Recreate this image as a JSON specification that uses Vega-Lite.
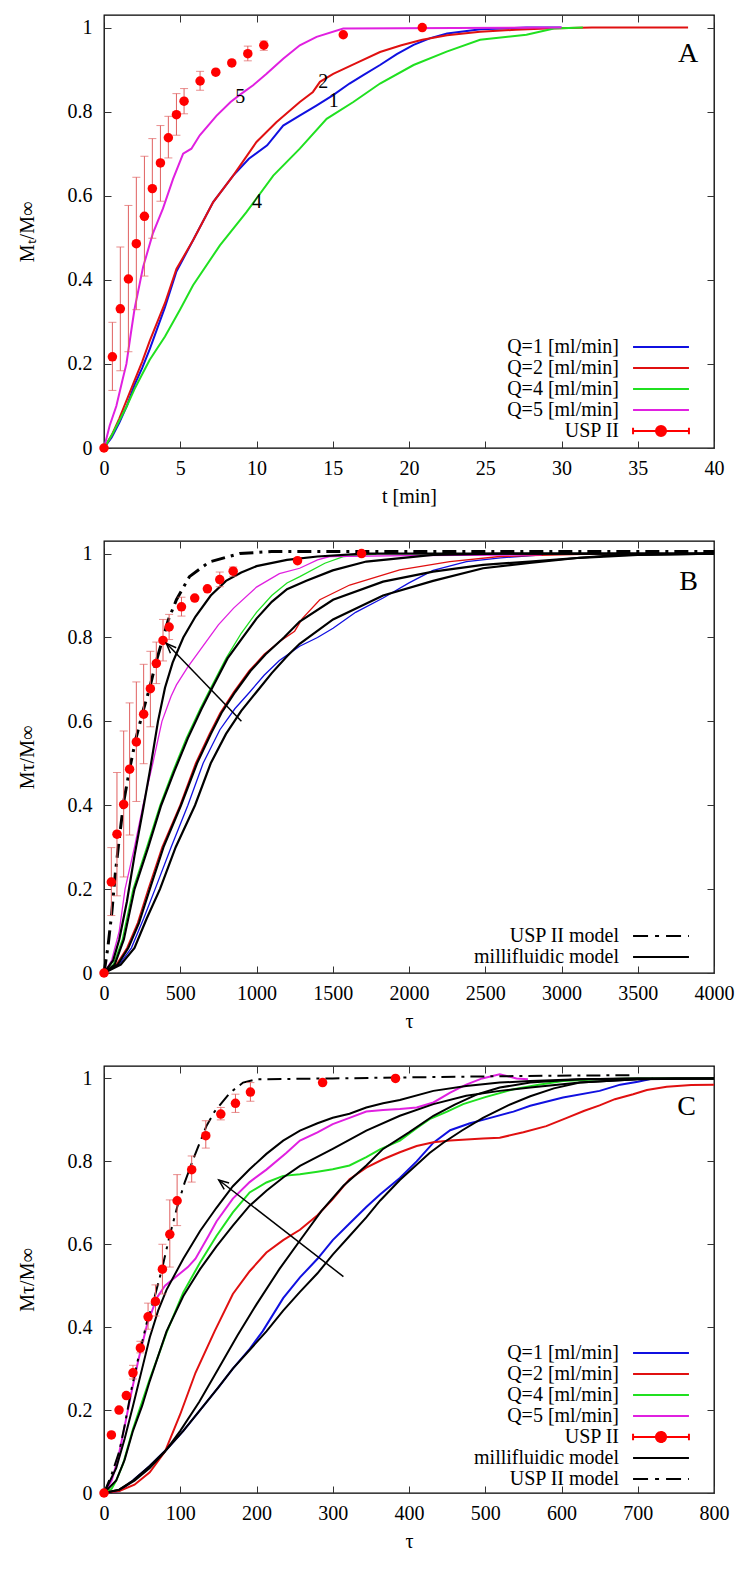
{
"$schema": "https://vega.github.io/schema/vega-lite/v6.json",
"padding": {"left": 16, "top": 13, "right": 5, "bottom": 5},
"spacing": 32,
"config": {
  "font": "Liberation Serif",
  "view": {"stroke": "black", "strokeWidth": 1.3},
  "axis": {"grid": false, "domain": false, "ticks": true, "tickSize": -7, "tickColor": "#333333", "tickWidth": 1, "labelFont": "Liberation Serif", "labelFontSize": 20, "labelColor": "black", "labelFlush": false, "labelOverlap": false, "titleFont": "Liberation Serif", "titleFontSize": 20, "titleFontWeight": "normal", "titleColor": "black"},
  "axisX": {"labelPadding": 17, "titlePadding": 8},
  "axisY": {"labelPadding": 19, "titlePadding": 30}
},
"datasets": {
  "A_pts": [
    {"s":"USP II","x":0,"y":0},
    {"s":"USP II","x":0.55,"y":0.217,"lo":0.137,"hi":0.299},
    {"s":"USP II","x":1.07,"y":0.331,"lo":0.184,"hi":0.478},
    {"s":"USP II","x":1.6,"y":0.402,"lo":0.229,"hi":0.577},
    {"s":"USP II","x":2.12,"y":0.486,"lo":0.329,"hi":0.644},
    {"s":"USP II","x":2.65,"y":0.551,"lo":0.409,"hi":0.694},
    {"s":"USP II","x":3.17,"y":0.617,"lo":0.499,"hi":0.736},
    {"s":"USP II","x":3.7,"y":0.678,"lo":0.587,"hi":0.767},
    {"s":"USP II","x":4.22,"y":0.738,"lo":0.69,"hi":0.789},
    {"s":"USP II","x":4.75,"y":0.793,"lo":0.744,"hi":0.843},
    {"s":"USP II","x":5.25,"y":0.825,"lo":0.795,"hi":0.855},
    {"s":"USP II","x":6.3,"y":0.873,"lo":0.851,"hi":0.896},
    {"s":"USP II","x":7.33,"y":0.894},
    {"s":"USP II","x":8.38,"y":0.916},
    {"s":"USP II","x":9.43,"y":0.938,"lo":0.921,"hi":0.956},
    {"s":"USP II","x":10.48,"y":0.958,"lo":0.946,"hi":0.968},
    {"s":"USP II","x":15.69,"y":0.983},
    {"s":"USP II","x":20.87,"y":1.0}
  ],
  "A_lines": [
    {"s":"Q=1 [ml/min]","x":0,"y":0},{"s":"Q=1 [ml/min]","x":0.5,"y":0.025},{"s":"Q=1 [ml/min]","x":1,"y":0.06},{"s":"Q=1 [ml/min]","x":1.5,"y":0.1},{"s":"Q=1 [ml/min]","x":2,"y":0.15},{"s":"Q=1 [ml/min]","x":2.5,"y":0.19},{"s":"Q=1 [ml/min]","x":3,"y":0.235},{"s":"Q=1 [ml/min]","x":3.5,"y":0.285},{"s":"Q=1 [ml/min]","x":4,"y":0.335},{"s":"Q=1 [ml/min]","x":4.75,"y":0.42},{"s":"Q=1 [ml/min]","x":5.84,"y":0.494},{"s":"Q=1 [ml/min]","x":7.16,"y":0.585},{"s":"Q=1 [ml/min]","x":8.47,"y":0.648},{"s":"Q=1 [ml/min]","x":9.5,"y":0.688},{"s":"Q=1 [ml/min]","x":10.7,"y":0.72},{"s":"Q=1 [ml/min]","x":11.75,"y":0.767},{"s":"Q=1 [ml/min]","x":12.8,"y":0.79},{"s":"Q=1 [ml/min]","x":13.9,"y":0.814},{"s":"Q=1 [ml/min]","x":15,"y":0.839},{"s":"Q=1 [ml/min]","x":16.1,"y":0.867},{"s":"Q=1 [ml/min]","x":17,"y":0.887},{"s":"Q=1 [ml/min]","x":18.1,"y":0.911},{"s":"Q=1 [ml/min]","x":19.2,"y":0.937},{"s":"Q=1 [ml/min]","x":20.3,"y":0.959},{"s":"Q=1 [ml/min]","x":21.4,"y":0.975},{"s":"Q=1 [ml/min]","x":22.5,"y":0.986},{"s":"Q=1 [ml/min]","x":24.7,"y":0.996},{"s":"Q=1 [ml/min]","x":27.7,"y":1.0},{"s":"Q=1 [ml/min]","x":30,"y":1.0},
    {"s":"Q=2 [ml/min]","x":0,"y":0},{"s":"Q=2 [ml/min]","x":0.5,"y":0.03},{"s":"Q=2 [ml/min]","x":1,"y":0.07},{"s":"Q=2 [ml/min]","x":1.5,"y":0.115},{"s":"Q=2 [ml/min]","x":2,"y":0.16},{"s":"Q=2 [ml/min]","x":2.5,"y":0.205},{"s":"Q=2 [ml/min]","x":3,"y":0.255},{"s":"Q=2 [ml/min]","x":3.5,"y":0.3},{"s":"Q=2 [ml/min]","x":4,"y":0.345},{"s":"Q=2 [ml/min]","x":4.75,"y":0.426},{"s":"Q=2 [ml/min]","x":5.84,"y":0.494},{"s":"Q=2 [ml/min]","x":7.16,"y":0.585},{"s":"Q=2 [ml/min]","x":8.47,"y":0.648},{"s":"Q=2 [ml/min]","x":10,"y":0.728},{"s":"Q=2 [ml/min]","x":11.3,"y":0.775},{"s":"Q=2 [ml/min]","x":12.84,"y":0.823},{"s":"Q=2 [ml/min]","x":13.7,"y":0.847},{"s":"Q=2 [ml/min]","x":14.16,"y":0.871},{"s":"Q=2 [ml/min]","x":15.03,"y":0.89},{"s":"Q=2 [ml/min]","x":16.5,"y":0.915},{"s":"Q=2 [ml/min]","x":18.1,"y":0.942},{"s":"Q=2 [ml/min]","x":19.5,"y":0.958},{"s":"Q=2 [ml/min]","x":20.87,"y":0.971},{"s":"Q=2 [ml/min]","x":22.5,"y":0.982},{"s":"Q=2 [ml/min]","x":24.66,"y":0.99},{"s":"Q=2 [ml/min]","x":27,"y":0.995},{"s":"Q=2 [ml/min]","x":29,"y":0.998},{"s":"Q=2 [ml/min]","x":32,"y":1.0},{"s":"Q=2 [ml/min]","x":38.3,"y":1.0},
    {"s":"Q=4 [ml/min]","x":0,"y":0},{"s":"Q=4 [ml/min]","x":0.5,"y":0.03},{"s":"Q=4 [ml/min]","x":1,"y":0.065},{"s":"Q=4 [ml/min]","x":1.5,"y":0.1},{"s":"Q=4 [ml/min]","x":2,"y":0.14},{"s":"Q=4 [ml/min]","x":2.34,"y":0.164},{"s":"Q=4 [ml/min]","x":3,"y":0.21},{"s":"Q=4 [ml/min]","x":4,"y":0.265},{"s":"Q=4 [ml/min]","x":5,"y":0.33},{"s":"Q=4 [ml/min]","x":5.84,"y":0.387},{"s":"Q=4 [ml/min]","x":7.6,"y":0.482},{"s":"Q=4 [ml/min]","x":9.34,"y":0.561},{"s":"Q=4 [ml/min]","x":11.1,"y":0.648},{"s":"Q=4 [ml/min]","x":12.84,"y":0.712},{"s":"Q=4 [ml/min]","x":14.6,"y":0.783},{"s":"Q=4 [ml/min]","x":16.35,"y":0.823},{"s":"Q=4 [ml/min]","x":18.1,"y":0.867},{"s":"Q=4 [ml/min]","x":20.3,"y":0.911},{"s":"Q=4 [ml/min]","x":22.47,"y":0.943},{"s":"Q=4 [ml/min]","x":24.66,"y":0.971},{"s":"Q=4 [ml/min]","x":27.7,"y":0.983},{"s":"Q=4 [ml/min]","x":29.5,"y":0.998},{"s":"Q=4 [ml/min]","x":31.4,"y":1.0},
    {"s":"Q=5 [ml/min]","x":0,"y":0},{"s":"Q=5 [ml/min]","x":0.37,"y":0.053},{"s":"Q=5 [ml/min]","x":0.81,"y":0.1},{"s":"Q=5 [ml/min]","x":1.2,"y":0.16},{"s":"Q=5 [ml/min]","x":1.47,"y":0.2},{"s":"Q=5 [ml/min]","x":1.75,"y":0.27},{"s":"Q=5 [ml/min]","x":2.0,"y":0.33},{"s":"Q=5 [ml/min]","x":2.56,"y":0.43},{"s":"Q=5 [ml/min]","x":3.2,"y":0.51},{"s":"Q=5 [ml/min]","x":3.87,"y":0.57},{"s":"Q=5 [ml/min]","x":4.53,"y":0.64},{"s":"Q=5 [ml/min]","x":5.19,"y":0.7},{"s":"Q=5 [ml/min]","x":5.73,"y":0.712},{"s":"Q=5 [ml/min]","x":6.28,"y":0.744},{"s":"Q=5 [ml/min]","x":7.37,"y":0.79},{"s":"Q=5 [ml/min]","x":8.3,"y":0.823},{"s":"Q=5 [ml/min]","x":8.9,"y":0.84},{"s":"Q=5 [ml/min]","x":9.78,"y":0.863},{"s":"Q=5 [ml/min]","x":10.66,"y":0.89},{"s":"Q=5 [ml/min]","x":11.75,"y":0.926},{"s":"Q=5 [ml/min]","x":12.84,"y":0.958},{"s":"Q=5 [ml/min]","x":13.94,"y":0.978},{"s":"Q=5 [ml/min]","x":15.69,"y":0.998},{"s":"Q=5 [ml/min]","x":30,"y":1.0}
  ],
  "B_pts": [
    {"x":0,"y":0},
    {"x":48,"y":0.217,"lo":0.137,"hi":0.299},
    {"x":85,"y":0.331,"lo":0.184,"hi":0.478},
    {"x":129,"y":0.402,"lo":0.229,"hi":0.577},
    {"x":168,"y":0.486,"lo":0.329,"hi":0.644},
    {"x":212,"y":0.551,"lo":0.409,"hi":0.694},
    {"x":260,"y":0.617,"lo":0.499,"hi":0.736},
    {"x":304,"y":0.678,"lo":0.587,"hi":0.767},
    {"x":343,"y":0.738,"lo":0.69,"hi":0.789},
    {"x":387,"y":0.793,"lo":0.744,"hi":0.843},
    {"x":427,"y":0.825,"lo":0.795,"hi":0.855},
    {"x":508,"y":0.873,"lo":0.851,"hi":0.896},
    {"x":595,"y":0.894},
    {"x":678,"y":0.916},
    {"x":759,"y":0.938,"lo":0.921,"hi":0.956},
    {"x":847,"y":0.958,"lo":0.946,"hi":0.968},
    {"x":1269,"y":0.983},
    {"x":1689,"y":1.0}
  ],
  "B_lines": [
    {"s":"Q=1 [ml/min]","x":0,"y":0},{"s":"Q=1 [ml/min]","x":100,"y":0.02},{"s":"Q=1 [ml/min]","x":180,"y":0.06},{"s":"Q=1 [ml/min]","x":260,"y":0.13},{"s":"Q=1 [ml/min]","x":335,"y":0.2},{"s":"Q=1 [ml/min]","x":440,"y":0.3},{"s":"Q=1 [ml/min]","x":550,"y":0.4},{"s":"Q=1 [ml/min]","x":650,"y":0.5},{"s":"Q=1 [ml/min]","x":760,"y":0.58},{"s":"Q=1 [ml/min]","x":858,"y":0.63},{"s":"Q=1 [ml/min]","x":956,"y":0.67},{"s":"Q=1 [ml/min]","x":1050,"y":0.71},{"s":"Q=1 [ml/min]","x":1150,"y":0.745},{"s":"Q=1 [ml/min]","x":1283,"y":0.779},{"s":"Q=1 [ml/min]","x":1400,"y":0.8},{"s":"Q=1 [ml/min]","x":1502,"y":0.822},{"s":"Q=1 [ml/min]","x":1650,"y":0.86},{"s":"Q=1 [ml/min]","x":1830,"y":0.894},{"s":"Q=1 [ml/min]","x":2000,"y":0.93},{"s":"Q=1 [ml/min]","x":2158,"y":0.96},{"s":"Q=1 [ml/min]","x":2377,"y":0.981},{"s":"Q=1 [ml/min]","x":2600,"y":0.99},{"s":"Q=1 [ml/min]","x":2877,"y":0.997},
    {"s":"Q=2 [ml/min]","x":0,"y":0},{"s":"Q=2 [ml/min]","x":80,"y":0.02},{"s":"Q=2 [ml/min]","x":150,"y":0.06},{"s":"Q=2 [ml/min]","x":220,"y":0.12},{"s":"Q=2 [ml/min]","x":289,"y":0.2},{"s":"Q=2 [ml/min]","x":380,"y":0.3},{"s":"Q=2 [ml/min]","x":498,"y":0.4},{"s":"Q=2 [ml/min]","x":600,"y":0.5},{"s":"Q=2 [ml/min]","x":690,"y":0.57},{"s":"Q=2 [ml/min]","x":760,"y":0.62},{"s":"Q=2 [ml/min]","x":850,"y":0.67},{"s":"Q=2 [ml/min]","x":950,"y":0.72},{"s":"Q=2 [ml/min]","x":1050,"y":0.76},{"s":"Q=2 [ml/min]","x":1150,"y":0.79},{"s":"Q=2 [ml/min]","x":1250,"y":0.815},{"s":"Q=2 [ml/min]","x":1300,"y":0.845},{"s":"Q=2 [ml/min]","x":1415,"y":0.89},{"s":"Q=2 [ml/min]","x":1611,"y":0.925},{"s":"Q=2 [ml/min]","x":1939,"y":0.961},{"s":"Q=2 [ml/min]","x":2267,"y":0.981},{"s":"Q=2 [ml/min]","x":2595,"y":0.993},{"s":"Q=2 [ml/min]","x":2790,"y":0.995},{"s":"Q=2 [ml/min]","x":3337,"y":1.0},
    {"s":"Q=4 [ml/min]","x":0,"y":0},{"s":"Q=4 [ml/min]","x":60,"y":0.02},{"s":"Q=4 [ml/min]","x":120,"y":0.08},{"s":"Q=4 [ml/min]","x":190,"y":0.2},{"s":"Q=4 [ml/min]","x":280,"y":0.3},{"s":"Q=4 [ml/min]","x":367,"y":0.4},{"s":"Q=4 [ml/min]","x":450,"y":0.48},{"s":"Q=4 [ml/min]","x":540,"y":0.56},{"s":"Q=4 [ml/min]","x":630,"y":0.63},{"s":"Q=4 [ml/min]","x":700,"y":0.68},{"s":"Q=4 [ml/min]","x":800,"y":0.75},{"s":"Q=4 [ml/min]","x":900,"y":0.81},{"s":"Q=4 [ml/min]","x":1000,"y":0.86},{"s":"Q=4 [ml/min]","x":1100,"y":0.9},{"s":"Q=4 [ml/min]","x":1200,"y":0.93},{"s":"Q=4 [ml/min]","x":1284,"y":0.945},{"s":"Q=4 [ml/min]","x":1448,"y":0.977},{"s":"Q=4 [ml/min]","x":1569,"y":0.993},{"s":"Q=4 [ml/min]","x":1786,"y":0.999},
    {"s":"Q=5 [ml/min]","x":0,"y":0},{"s":"Q=5 [ml/min]","x":50,"y":0.03},{"s":"Q=5 [ml/min]","x":100,"y":0.1},{"s":"Q=5 [ml/min]","x":138,"y":0.2},{"s":"Q=5 [ml/min]","x":200,"y":0.3},{"s":"Q=5 [ml/min]","x":256,"y":0.4},{"s":"Q=5 [ml/min]","x":320,"y":0.5},{"s":"Q=5 [ml/min]","x":380,"y":0.6},{"s":"Q=5 [ml/min]","x":440,"y":0.66},{"s":"Q=5 [ml/min]","x":475,"y":0.687},{"s":"Q=5 [ml/min]","x":550,"y":0.73},{"s":"Q=5 [ml/min]","x":650,"y":0.78},{"s":"Q=5 [ml/min]","x":750,"y":0.83},{"s":"Q=5 [ml/min]","x":850,"y":0.87},{"s":"Q=5 [ml/min]","x":1000,"y":0.92},{"s":"Q=5 [ml/min]","x":1150,"y":0.952},{"s":"Q=5 [ml/min]","x":1283,"y":0.965},{"s":"Q=5 [ml/min]","x":1400,"y":0.985},{"s":"Q=5 [ml/min]","x":1480,"y":0.993},{"s":"Q=5 [ml/min]","x":2000,"y":0.995},{"s":"Q=5 [ml/min]","x":2870,"y":0.997}
  ],
  "B_models": [
    {"s":"millifluidic model","c":"m1","x":0,"y":0},{"s":"millifluidic model","c":"m1","x":60,"y":0.03},{"s":"millifluidic model","c":"m1","x":100,"y":0.08},{"s":"millifluidic model","c":"m1","x":150,"y":0.17},{"s":"millifluidic model","c":"m1","x":200,"y":0.28},{"s":"millifluidic model","c":"m1","x":256,"y":0.39},{"s":"millifluidic model","c":"m1","x":300,"y":0.48},{"s":"millifluidic model","c":"m1","x":354,"y":0.6},{"s":"millifluidic model","c":"m1","x":400,"y":0.68},{"s":"millifluidic model","c":"m1","x":450,"y":0.74},{"s":"millifluidic model","c":"m1","x":520,"y":0.8},{"s":"millifluidic model","c":"m1","x":600,"y":0.85},{"s":"millifluidic model","c":"m1","x":700,"y":0.9},{"s":"millifluidic model","c":"m1","x":800,"y":0.935},{"s":"millifluidic model","c":"m1","x":900,"y":0.955},{"s":"millifluidic model","c":"m1","x":1000,"y":0.97},{"s":"millifluidic model","c":"m1","x":1200,"y":0.985},{"s":"millifluidic model","c":"m1","x":1400,"y":0.993},{"s":"millifluidic model","c":"m1","x":1700,"y":1.0},{"s":"millifluidic model","c":"m1","x":4000,"y":1.0},
    {"s":"millifluidic model","c":"m2","x":0,"y":0},{"s":"millifluidic model","c":"m2","x":70,"y":0.02},{"s":"millifluidic model","c":"m2","x":130,"y":0.08},{"s":"millifluidic model","c":"m2","x":200,"y":0.2},{"s":"millifluidic model","c":"m2","x":290,"y":0.3},{"s":"millifluidic model","c":"m2","x":375,"y":0.4},{"s":"millifluidic model","c":"m2","x":460,"y":0.48},{"s":"millifluidic model","c":"m2","x":550,"y":0.56},{"s":"millifluidic model","c":"m2","x":640,"y":0.63},{"s":"millifluidic model","c":"m2","x":710,"y":0.68},{"s":"millifluidic model","c":"m2","x":810,"y":0.75},{"s":"millifluidic model","c":"m2","x":910,"y":0.8},{"s":"millifluidic model","c":"m2","x":1000,"y":0.845},{"s":"millifluidic model","c":"m2","x":1100,"y":0.885},{"s":"millifluidic model","c":"m2","x":1200,"y":0.915},{"s":"millifluidic model","c":"m2","x":1327,"y":0.935},{"s":"millifluidic model","c":"m2","x":1500,"y":0.96},{"s":"millifluidic model","c":"m2","x":1720,"y":0.981},{"s":"millifluidic model","c":"m2","x":2158,"y":0.997},{"s":"millifluidic model","c":"m2","x":2600,"y":1.0},{"s":"millifluidic model","c":"m2","x":4000,"y":1.0},
    {"s":"millifluidic model","c":"m3","x":0,"y":0},{"s":"millifluidic model","c":"m3","x":90,"y":0.02},{"s":"millifluidic model","c":"m3","x":160,"y":0.06},{"s":"millifluidic model","c":"m3","x":230,"y":0.12},{"s":"millifluidic model","c":"m3","x":300,"y":0.2},{"s":"millifluidic model","c":"m3","x":390,"y":0.3},{"s":"millifluidic model","c":"m3","x":505,"y":0.4},{"s":"millifluidic model","c":"m3","x":610,"y":0.5},{"s":"millifluidic model","c":"m3","x":700,"y":0.57},{"s":"millifluidic model","c":"m3","x":770,"y":0.62},{"s":"millifluidic model","c":"m3","x":860,"y":0.67},{"s":"millifluidic model","c":"m3","x":960,"y":0.72},{"s":"millifluidic model","c":"m3","x":1060,"y":0.76},{"s":"millifluidic model","c":"m3","x":1180,"y":0.8},{"s":"millifluidic model","c":"m3","x":1283,"y":0.838},{"s":"millifluidic model","c":"m3","x":1502,"y":0.89},{"s":"millifluidic model","c":"m3","x":1830,"y":0.933},{"s":"millifluidic model","c":"m3","x":2158,"y":0.957},{"s":"millifluidic model","c":"m3","x":2486,"y":0.973},{"s":"millifluidic model","c":"m3","x":2790,"y":0.981},{"s":"millifluidic model","c":"m3","x":3120,"y":0.99},{"s":"millifluidic model","c":"m3","x":3500,"y":0.997},{"s":"millifluidic model","c":"m3","x":4000,"y":1.0},
    {"s":"millifluidic model","c":"m4","x":0,"y":0},{"s":"millifluidic model","c":"m4","x":110,"y":0.02},{"s":"millifluidic model","c":"m4","x":200,"y":0.06},{"s":"millifluidic model","c":"m4","x":280,"y":0.13},{"s":"millifluidic model","c":"m4","x":367,"y":0.2},{"s":"millifluidic model","c":"m4","x":470,"y":0.3},{"s":"millifluidic model","c":"m4","x":597,"y":0.4},{"s":"millifluidic model","c":"m4","x":700,"y":0.5},{"s":"millifluidic model","c":"m4","x":800,"y":0.57},{"s":"millifluidic model","c":"m4","x":900,"y":0.625},{"s":"millifluidic model","c":"m4","x":1000,"y":0.67},{"s":"millifluidic model","c":"m4","x":1100,"y":0.715},{"s":"millifluidic model","c":"m4","x":1200,"y":0.755},{"s":"millifluidic model","c":"m4","x":1283,"y":0.785},{"s":"millifluidic model","c":"m4","x":1502,"y":0.843},{"s":"millifluidic model","c":"m4","x":1830,"y":0.9},{"s":"millifluidic model","c":"m4","x":2158,"y":0.935},{"s":"millifluidic model","c":"m4","x":2486,"y":0.965},{"s":"millifluidic model","c":"m4","x":2790,"y":0.978},{"s":"millifluidic model","c":"m4","x":3120,"y":0.99},{"s":"millifluidic model","c":"m4","x":3338,"y":0.996},{"s":"millifluidic model","c":"m4","x":4000,"y":1.0}
  ],
  "B_usp": [
    {"s":"USP II model","x":0,"y":0},{"s":"USP II model","x":25,"y":0.06},{"s":"USP II model","x":50,"y":0.14},{"s":"USP II model","x":75,"y":0.24},{"s":"USP II model","x":100,"y":0.32},{"s":"USP II model","x":130,"y":0.41},{"s":"USP II model","x":170,"y":0.49},{"s":"USP II model","x":210,"y":0.56},{"s":"USP II model","x":260,"y":0.63},{"s":"USP II model","x":300,"y":0.68},{"s":"USP II model","x":340,"y":0.74},{"s":"USP II model","x":380,"y":0.79},{"s":"USP II model","x":420,"y":0.84},{"s":"USP II model","x":475,"y":0.89},{"s":"USP II model","x":560,"y":0.945},{"s":"USP II model","x":690,"y":0.98},{"s":"USP II model","x":890,"y":1.0},{"s":"USP II model","x":1100,"y":1.005},{"s":"USP II model","x":4000,"y":1.005}
  ],
  "C_pts": [
    {"s":"USP II","x":0,"y":0},
    {"s":"USP II","x":9.7,"y":0.14},
    {"s":"USP II","x":19.7,"y":0.2},
    {"s":"USP II","x":29.3,"y":0.235},
    {"s":"USP II","x":38,"y":0.29,"lo":0.275,"hi":0.308},
    {"s":"USP II","x":47.7,"y":0.35,"lo":0.338,"hi":0.366},
    {"s":"USP II","x":57.8,"y":0.425,"lo":0.395,"hi":0.458},
    {"s":"USP II","x":67.5,"y":0.462,"lo":0.427,"hi":0.502},
    {"s":"USP II","x":76.6,"y":0.54,"lo":0.48,"hi":0.6},
    {"s":"USP II","x":86.3,"y":0.624,"lo":0.545,"hi":0.707},
    {"s":"USP II","x":95.9,"y":0.705,"lo":0.645,"hi":0.768},
    {"s":"USP II","x":115,"y":0.78,"lo":0.75,"hi":0.813},
    {"s":"USP II","x":133.5,"y":0.862,"lo":0.832,"hi":0.898},
    {"s":"USP II","x":153.2,"y":0.914,"lo":0.9,"hi":0.93},
    {"s":"USP II","x":172.4,"y":0.94,"lo":0.918,"hi":0.962},
    {"s":"USP II","x":192,"y":0.967,"lo":0.945,"hi":0.99},
    {"s":"USP II","x":286.7,"y":0.99},
    {"s":"USP II","x":382.3,"y":1.0}
  ],
  "C_lines": [
    {"s":"Q=1 [ml/min]","x":0,"y":0},{"s":"Q=1 [ml/min]","x":20,"y":0.005},{"s":"Q=1 [ml/min]","x":38,"y":0.03},{"s":"Q=1 [ml/min]","x":60,"y":0.065},{"s":"Q=1 [ml/min]","x":82,"y":0.105},{"s":"Q=1 [ml/min]","x":104,"y":0.15},{"s":"Q=1 [ml/min]","x":126,"y":0.2},{"s":"Q=1 [ml/min]","x":150,"y":0.255},{"s":"Q=1 [ml/min]","x":169,"y":0.3},{"s":"Q=1 [ml/min]","x":190,"y":0.345},{"s":"Q=1 [ml/min]","x":208,"y":0.39},{"s":"Q=1 [ml/min]","x":235,"y":0.47},{"s":"Q=1 [ml/min]","x":257,"y":0.52},{"s":"Q=1 [ml/min]","x":280,"y":0.565},{"s":"Q=1 [ml/min]","x":300,"y":0.61},{"s":"Q=1 [ml/min]","x":322,"y":0.65},{"s":"Q=1 [ml/min]","x":344,"y":0.69},{"s":"Q=1 [ml/min]","x":362,"y":0.72},{"s":"Q=1 [ml/min]","x":388,"y":0.76},{"s":"Q=1 [ml/min]","x":410,"y":0.8},{"s":"Q=1 [ml/min]","x":432,"y":0.845},{"s":"Q=1 [ml/min]","x":454,"y":0.875},{"s":"Q=1 [ml/min]","x":480,"y":0.892},{"s":"Q=1 [ml/min]","x":497,"y":0.9},{"s":"Q=1 [ml/min]","x":537,"y":0.92},{"s":"Q=1 [ml/min]","x":559,"y":0.934},{"s":"Q=1 [ml/min]","x":602,"y":0.954},{"s":"Q=1 [ml/min]","x":650,"y":0.97},{"s":"Q=1 [ml/min]","x":677,"y":0.985},{"s":"Q=1 [ml/min]","x":700,"y":0.992},{"s":"Q=1 [ml/min]","x":720,"y":1.0},
    {"s":"Q=2 [ml/min]","x":0,"y":0},{"s":"Q=2 [ml/min]","x":20,"y":0.005},{"s":"Q=2 [ml/min]","x":40,"y":0.02},{"s":"Q=2 [ml/min]","x":60,"y":0.05},{"s":"Q=2 [ml/min]","x":80,"y":0.1},{"s":"Q=2 [ml/min]","x":100,"y":0.19},{"s":"Q=2 [ml/min]","x":120,"y":0.29},{"s":"Q=2 [ml/min]","x":145,"y":0.39},{"s":"Q=2 [ml/min]","x":169,"y":0.48},{"s":"Q=2 [ml/min]","x":191,"y":0.535},{"s":"Q=2 [ml/min]","x":213,"y":0.58},{"s":"Q=2 [ml/min]","x":235,"y":0.61},{"s":"Q=2 [ml/min]","x":257,"y":0.635},{"s":"Q=2 [ml/min]","x":280,"y":0.67},{"s":"Q=2 [ml/min]","x":300,"y":0.709},{"s":"Q=2 [ml/min]","x":322,"y":0.757},{"s":"Q=2 [ml/min]","x":344,"y":0.785},{"s":"Q=2 [ml/min]","x":366,"y":0.805},{"s":"Q=2 [ml/min]","x":388,"y":0.822},{"s":"Q=2 [ml/min]","x":410,"y":0.837},{"s":"Q=2 [ml/min]","x":432,"y":0.846},{"s":"Q=2 [ml/min]","x":454,"y":0.85},{"s":"Q=2 [ml/min]","x":497,"y":0.855},{"s":"Q=2 [ml/min]","x":519,"y":0.857},{"s":"Q=2 [ml/min]","x":550,"y":0.87},{"s":"Q=2 [ml/min]","x":580,"y":0.885},{"s":"Q=2 [ml/min]","x":607,"y":0.905},{"s":"Q=2 [ml/min]","x":630,"y":0.922},{"s":"Q=2 [ml/min]","x":650,"y":0.935},{"s":"Q=2 [ml/min]","x":670,"y":0.95},{"s":"Q=2 [ml/min]","x":694,"y":0.962},{"s":"Q=2 [ml/min]","x":712,"y":0.972},{"s":"Q=2 [ml/min]","x":738,"y":0.98},{"s":"Q=2 [ml/min]","x":770,"y":0.984},{"s":"Q=2 [ml/min]","x":800,"y":0.985},
    {"s":"Q=4 [ml/min]","x":0,"y":0},{"s":"Q=4 [ml/min]","x":10,"y":0.01},{"s":"Q=4 [ml/min]","x":16,"y":0.03},{"s":"Q=4 [ml/min]","x":25,"y":0.07},{"s":"Q=4 [ml/min]","x":38,"y":0.154},{"s":"Q=4 [ml/min]","x":50,"y":0.22},{"s":"Q=4 [ml/min]","x":60,"y":0.275},{"s":"Q=4 [ml/min]","x":71,"y":0.33},{"s":"Q=4 [ml/min]","x":82,"y":0.387},{"s":"Q=4 [ml/min]","x":104,"y":0.484},{"s":"Q=4 [ml/min]","x":126,"y":0.556},{"s":"Q=4 [ml/min]","x":147.5,"y":0.62},{"s":"Q=4 [ml/min]","x":169,"y":0.677},{"s":"Q=4 [ml/min]","x":191,"y":0.725},{"s":"Q=4 [ml/min]","x":213,"y":0.749},{"s":"Q=4 [ml/min]","x":235,"y":0.765},{"s":"Q=4 [ml/min]","x":257,"y":0.769},{"s":"Q=4 [ml/min]","x":280,"y":0.775},{"s":"Q=4 [ml/min]","x":300,"y":0.781},{"s":"Q=4 [ml/min]","x":322,"y":0.79},{"s":"Q=4 [ml/min]","x":344,"y":0.81},{"s":"Q=4 [ml/min]","x":362,"y":0.829},{"s":"Q=4 [ml/min]","x":388,"y":0.85},{"s":"Q=4 [ml/min]","x":410,"y":0.88},{"s":"Q=4 [ml/min]","x":427,"y":0.902},{"s":"Q=4 [ml/min]","x":450,"y":0.92},{"s":"Q=4 [ml/min]","x":471,"y":0.938},{"s":"Q=4 [ml/min]","x":500,"y":0.955},{"s":"Q=4 [ml/min]","x":537,"y":0.974},{"s":"Q=4 [ml/min]","x":570,"y":0.985},{"s":"Q=4 [ml/min]","x":602,"y":0.994},{"s":"Q=4 [ml/min]","x":650,"y":0.998},{"s":"Q=4 [ml/min]","x":700,"y":1.0},{"s":"Q=4 [ml/min]","x":800,"y":1.0},
    {"s":"Q=5 [ml/min]","x":0,"y":0},{"s":"Q=5 [ml/min]","x":10,"y":0.03},{"s":"Q=5 [ml/min]","x":18,"y":0.08},{"s":"Q=5 [ml/min]","x":27,"y":0.16},{"s":"Q=5 [ml/min]","x":36,"y":0.243},{"s":"Q=5 [ml/min]","x":45,"y":0.32},{"s":"Q=5 [ml/min]","x":56,"y":0.403},{"s":"Q=5 [ml/min]","x":69,"y":0.47},{"s":"Q=5 [ml/min]","x":80,"y":0.5},{"s":"Q=5 [ml/min]","x":90,"y":0.515},{"s":"Q=5 [ml/min]","x":100,"y":0.53},{"s":"Q=5 [ml/min]","x":110,"y":0.545},{"s":"Q=5 [ml/min]","x":120,"y":0.565},{"s":"Q=5 [ml/min]","x":137,"y":0.62},{"s":"Q=5 [ml/min]","x":147.5,"y":0.655},{"s":"Q=5 [ml/min]","x":169,"y":0.71},{"s":"Q=5 [ml/min]","x":191,"y":0.75},{"s":"Q=5 [ml/min]","x":213,"y":0.78},{"s":"Q=5 [ml/min]","x":239,"y":0.82},{"s":"Q=5 [ml/min]","x":257,"y":0.85},{"s":"Q=5 [ml/min]","x":280,"y":0.87},{"s":"Q=5 [ml/min]","x":300,"y":0.89},{"s":"Q=5 [ml/min]","x":322,"y":0.905},{"s":"Q=5 [ml/min]","x":344,"y":0.92},{"s":"Q=5 [ml/min]","x":366,"y":0.924},{"s":"Q=5 [ml/min]","x":388,"y":0.926},{"s":"Q=5 [ml/min]","x":410,"y":0.93},{"s":"Q=5 [ml/min]","x":432,"y":0.942},{"s":"Q=5 [ml/min]","x":454,"y":0.966},{"s":"Q=5 [ml/min]","x":475,"y":0.985},{"s":"Q=5 [ml/min]","x":496,"y":1.0},{"s":"Q=5 [ml/min]","x":519,"y":1.01},{"s":"Q=5 [ml/min]","x":541,"y":1.0},{"s":"Q=5 [ml/min]","x":556,"y":0.998}
  ],
  "C_models": [
    {"s":"millifluidic model","c":"m1","x":0,"y":0},{"s":"millifluidic model","c":"m1","x":16,"y":0.06},{"s":"millifluidic model","c":"m1","x":27,"y":0.13},{"s":"millifluidic model","c":"m1","x":38,"y":0.21},{"s":"millifluidic model","c":"m1","x":50,"y":0.3},{"s":"millifluidic model","c":"m1","x":60,"y":0.375},{"s":"millifluidic model","c":"m1","x":71,"y":0.44},{"s":"millifluidic model","c":"m1","x":82,"y":0.49},{"s":"millifluidic model","c":"m1","x":104,"y":0.565},{"s":"millifluidic model","c":"m1","x":126,"y":0.632},{"s":"millifluidic model","c":"m1","x":147.5,"y":0.688},{"s":"millifluidic model","c":"m1","x":169,"y":0.74},{"s":"millifluidic model","c":"m1","x":191,"y":0.781},{"s":"millifluidic model","c":"m1","x":213,"y":0.818},{"s":"millifluidic model","c":"m1","x":235,"y":0.85},{"s":"millifluidic model","c":"m1","x":257,"y":0.874},{"s":"millifluidic model","c":"m1","x":280,"y":0.892},{"s":"millifluidic model","c":"m1","x":300,"y":0.905},{"s":"millifluidic model","c":"m1","x":322,"y":0.915},{"s":"millifluidic model","c":"m1","x":344,"y":0.93},{"s":"millifluidic model","c":"m1","x":366,"y":0.94},{"s":"millifluidic model","c":"m1","x":388,"y":0.948},{"s":"millifluidic model","c":"m1","x":432,"y":0.97},{"s":"millifluidic model","c":"m1","x":475,"y":0.982},{"s":"millifluidic model","c":"m1","x":519,"y":0.99},{"s":"millifluidic model","c":"m1","x":559,"y":0.994},{"s":"millifluidic model","c":"m1","x":624,"y":0.998},{"s":"millifluidic model","c":"m1","x":700,"y":1.0},{"s":"millifluidic model","c":"m1","x":800,"y":1.0},
    {"s":"millifluidic model","c":"m2","x":0,"y":0},{"s":"millifluidic model","c":"m2","x":16,"y":0.03},{"s":"millifluidic model","c":"m2","x":27,"y":0.08},{"s":"millifluidic model","c":"m2","x":38,"y":0.15},{"s":"millifluidic model","c":"m2","x":50,"y":0.21},{"s":"millifluidic model","c":"m2","x":60,"y":0.27},{"s":"millifluidic model","c":"m2","x":71,"y":0.33},{"s":"millifluidic model","c":"m2","x":82,"y":0.39},{"s":"millifluidic model","c":"m2","x":104,"y":0.475},{"s":"millifluidic model","c":"m2","x":126,"y":0.54},{"s":"millifluidic model","c":"m2","x":147.5,"y":0.595},{"s":"millifluidic model","c":"m2","x":169,"y":0.645},{"s":"millifluidic model","c":"m2","x":191,"y":0.693},{"s":"millifluidic model","c":"m2","x":213,"y":0.729},{"s":"millifluidic model","c":"m2","x":235,"y":0.761},{"s":"millifluidic model","c":"m2","x":257,"y":0.789},{"s":"millifluidic model","c":"m2","x":300,"y":0.83},{"s":"millifluidic model","c":"m2","x":344,"y":0.874},{"s":"millifluidic model","c":"m2","x":388,"y":0.91},{"s":"millifluidic model","c":"m2","x":432,"y":0.938},{"s":"millifluidic model","c":"m2","x":475,"y":0.958},{"s":"millifluidic model","c":"m2","x":519,"y":0.97},{"s":"millifluidic model","c":"m2","x":559,"y":0.978},{"s":"millifluidic model","c":"m2","x":624,"y":0.99},{"s":"millifluidic model","c":"m2","x":700,"y":0.998},{"s":"millifluidic model","c":"m2","x":800,"y":1.0},
    {"s":"millifluidic model","c":"m3","x":0,"y":0},{"s":"millifluidic model","c":"m3","x":20,"y":0.008},{"s":"millifluidic model","c":"m3","x":40,"y":0.03},{"s":"millifluidic model","c":"m3","x":60,"y":0.06},{"s":"millifluidic model","c":"m3","x":80,"y":0.1},{"s":"millifluidic model","c":"m3","x":100,"y":0.15},{"s":"millifluidic model","c":"m3","x":125,"y":0.22},{"s":"millifluidic model","c":"m3","x":150,"y":0.3},{"s":"millifluidic model","c":"m3","x":175,"y":0.38},{"s":"millifluidic model","c":"m3","x":200,"y":0.455},{"s":"millifluidic model","c":"m3","x":230,"y":0.54},{"s":"millifluidic model","c":"m3","x":257,"y":0.609},{"s":"millifluidic model","c":"m3","x":285,"y":0.68},{"s":"millifluidic model","c":"m3","x":314,"y":0.741},{"s":"millifluidic model","c":"m3","x":344,"y":0.79},{"s":"millifluidic model","c":"m3","x":366,"y":0.83},{"s":"millifluidic model","c":"m3","x":400,"y":0.87},{"s":"millifluidic model","c":"m3","x":432,"y":0.91},{"s":"millifluidic model","c":"m3","x":460,"y":0.937},{"s":"millifluidic model","c":"m3","x":490,"y":0.962},{"s":"millifluidic model","c":"m3","x":519,"y":0.978},{"s":"millifluidic model","c":"m3","x":559,"y":0.99},{"s":"millifluidic model","c":"m3","x":624,"y":0.998},{"s":"millifluidic model","c":"m3","x":700,"y":1.0},{"s":"millifluidic model","c":"m3","x":800,"y":1.0},
    {"s":"millifluidic model","c":"m4","x":0,"y":0},{"s":"millifluidic model","c":"m4","x":20,"y":0.008},{"s":"millifluidic model","c":"m4","x":38,"y":0.03},{"s":"millifluidic model","c":"m4","x":60,"y":0.065},{"s":"millifluidic model","c":"m4","x":82,"y":0.105},{"s":"millifluidic model","c":"m4","x":104,"y":0.15},{"s":"millifluidic model","c":"m4","x":126,"y":0.2},{"s":"millifluidic model","c":"m4","x":150,"y":0.255},{"s":"millifluidic model","c":"m4","x":169,"y":0.3},{"s":"millifluidic model","c":"m4","x":191,"y":0.345},{"s":"millifluidic model","c":"m4","x":213,"y":0.39},{"s":"millifluidic model","c":"m4","x":235,"y":0.44},{"s":"millifluidic model","c":"m4","x":257,"y":0.485},{"s":"millifluidic model","c":"m4","x":280,"y":0.53},{"s":"millifluidic model","c":"m4","x":300,"y":0.575},{"s":"millifluidic model","c":"m4","x":322,"y":0.62},{"s":"millifluidic model","c":"m4","x":344,"y":0.665},{"s":"millifluidic model","c":"m4","x":362,"y":0.705},{"s":"millifluidic model","c":"m4","x":388,"y":0.755},{"s":"millifluidic model","c":"m4","x":427,"y":0.82},{"s":"millifluidic model","c":"m4","x":445,"y":0.845},{"s":"millifluidic model","c":"m4","x":470,"y":0.875},{"s":"millifluidic model","c":"m4","x":497,"y":0.905},{"s":"millifluidic model","c":"m4","x":530,"y":0.935},{"s":"millifluidic model","c":"m4","x":559,"y":0.957},{"s":"millifluidic model","c":"m4","x":590,"y":0.976},{"s":"millifluidic model","c":"m4","x":624,"y":0.99},{"s":"millifluidic model","c":"m4","x":700,"y":0.998},{"s":"millifluidic model","c":"m4","x":750,"y":1.0},{"s":"millifluidic model","c":"m4","x":800,"y":1.0}
  ],
  "C_usp": [
    {"s":"USP II model","x":0,"y":0},{"s":"USP II model","x":10,"y":0.045},{"s":"USP II model","x":20,"y":0.1},{"s":"USP II model","x":27,"y":0.162},{"s":"USP II model","x":36,"y":0.25},{"s":"USP II model","x":44.7,"y":0.323},{"s":"USP II model","x":56,"y":0.41},{"s":"USP II model","x":66,"y":0.47},{"s":"USP II model","x":76,"y":0.54},{"s":"USP II model","x":86,"y":0.62},{"s":"USP II model","x":96,"y":0.69},{"s":"USP II model","x":106,"y":0.75},{"s":"USP II model","x":117,"y":0.805},{"s":"USP II model","x":134.3,"y":0.885},{"s":"USP II model","x":145,"y":0.92},{"s":"USP II model","x":165,"y":0.965},{"s":"USP II model","x":182.4,"y":0.99},{"s":"USP II model","x":200,"y":0.998},{"s":"USP II model","x":300,"y":1.0},{"s":"USP II model","x":500,"y":1.005},{"s":"USP II model","x":690,"y":1.008}
  ]
},
"vconcat": [
  {
    "width": 610, "height": 433,
    "layer": [
      {
        "data": {"name": "A_lines"},
        "mark": {"type": "line", "strokeWidth": 2},
        "encoding": {
          "x": {"field": "x", "type": "quantitative", "scale": {"domain": [0, 40], "nice": false, "zero": false}, "axis": {"orient": "top", "labels": false, "title": null, "values": [0,5,10,15,20,25,30,35,40]}},
          "y": {"field": "y", "type": "quantitative", "scale": {"domain": [0, 1.03], "nice": false, "zero": false}, "axis": {"orient": "right", "labels": false, "title": null, "values": [0,0.2,0.4,0.6,0.8,1]}},
          "color": {"field": "s", "type": "nominal",
            "scale": {"domain": ["Q=1 [ml/min]","Q=2 [ml/min]","Q=4 [ml/min]","Q=5 [ml/min]","USP II"], "range": ["#1010e0","#e01010","#20e020","#e020e0","#ff0000"]},
            "legend": {
              "title": null, "orient": "none", "legendX": 345, "legendY": 322,
              "labelAlign": "right", "labelOffset": -52, "labelLimit": 400, "labelFontSize": 20, "labelFont": "Liberation Serif", "labelColor": "black",
              "symbolOffset": 202, "symbolType": "M-5,0H5", "symbolSize": 125, "symbolStrokeWidth": 2, "rowPadding": 1, "padding": 0,
              "encode": {
                "entries": {"update": {"width": {"value": 1}, "height": {"value": 20}}},
                "symbols": {"update": {
                  "shape": [{"test": "datum.value === 'USP II'", "value": "M-5,0H5M-5,-0.6V0.6M5,-0.6V0.6M0.9,0A0.9,0.9,0,1,1,-0.9,0A0.9,0.9,0,1,1,0.9,0Z"}, {"value": "M-5,0H5"}],
                  "stroke": [{"test": "datum.value === 'Q=1 [ml/min]'", "value": "#1010e0"}, {"test": "datum.value === 'Q=2 [ml/min]'", "value": "#e01010"}, {"test": "datum.value === 'Q=4 [ml/min]'", "value": "#20e020"}, {"test": "datum.value === 'Q=5 [ml/min]'", "value": "#e020e0"}, {"test": "datum.value === 'USP II'", "value": "#e06060"}, {"value": "black"}],
                  "fill": [{"test": "datum.value === 'USP II'", "value": "#ff0000"}, {"value": "transparent"}],
                  "opacity": {"value": 1}
                }}
              }
            }
          }
        }
      },
      {
        "data": {"name": "A_pts"},
        "transform": [{"filter": "isValid(datum.lo)"}],
        "mark": {"type": "rule", "color": "#e06060", "strokeWidth": 1},
        "encoding": {"x": {"field": "x", "type": "quantitative", "axis": null}, "y": {"field": "lo", "type": "quantitative", "axis": null}, "y2": {"field": "hi"}}
      },
      {
        "data": {"name": "A_pts"},
        "transform": [{"filter": "isValid(datum.lo)"}],
        "mark": {"type": "tick", "orient": "horizontal", "color": "#e06060", "size": 8, "thickness": 1},
        "encoding": {"x": {"field": "x", "type": "quantitative", "axis": null}, "y": {"field": "lo", "type": "quantitative", "axis": null}}
      },
      {
        "data": {"name": "A_pts"},
        "transform": [{"filter": "isValid(datum.lo)"}],
        "mark": {"type": "tick", "orient": "horizontal", "color": "#e06060", "size": 8, "thickness": 1},
        "encoding": {"x": {"field": "x", "type": "quantitative", "axis": null}, "y": {"field": "hi", "type": "quantitative", "axis": null}}
      },
      {
        "data": {"name": "A_pts"},
        "mark": {"type": "circle", "size": 90, "opacity": 1},
        "encoding": {
          "x": {"field": "x", "type": "quantitative", "scale": {"domain": [0, 40], "nice": false, "zero": false}, "axis": {"orient": "bottom", "values": [0,5,10,15,20,25,30,35,40], "format": "d", "title": "t [min]"}},
          "y": {"field": "y", "type": "quantitative", "scale": {"domain": [0, 1.03], "nice": false, "zero": false}, "axis": {"orient": "left", "values": [0,0.2,0.4,0.6,0.8,1], "format": "~g", "title": "Mₜ/M∞"}},
          "color": {"field": "s", "type": "nominal"}
        }
      },
      {
        "data": {"values": [{"x": 8.94, "y": 0.836, "t": "5"}, {"x": 14.38, "y": 0.871, "t": "2"}, {"x": 15.06, "y": 0.826, "t": "1"}, {"x": 10.04, "y": 0.586, "t": "4"}]},
        "mark": {"type": "text", "fontSize": 20, "baseline": "middle", "align": "center", "font": "Liberation Serif", "color": "black"},
        "encoding": {"x": {"field": "x", "type": "quantitative", "axis": null}, "y": {"field": "y", "type": "quantitative", "axis": null}, "text": {"field": "t"}}
      },
      {
        "data": {"values": [{"x": 38.3, "y": 0.937, "t": "A"}]},
        "mark": {"type": "text", "fontSize": 28, "baseline": "middle", "align": "center", "font": "Liberation Serif", "color": "black"},
        "encoding": {"x": {"field": "x", "type": "quantitative", "axis": null}, "y": {"field": "y", "type": "quantitative", "axis": null}, "text": {"field": "t"}}
      }
    ],
    "resolve": {"axis": {"x": "independent", "y": "independent"}}
  },
  {
    "width": 610, "height": 432,
    "layer": [
      {
        "data": {"name": "B_lines"},
        "mark": {"type": "line", "strokeWidth": 1.3},
        "encoding": {
          "x": {"field": "x", "type": "quantitative", "scale": {"domain": [0, 4000], "nice": false, "zero": false}, "axis": {"orient": "top", "labels": false, "title": null, "values": [0,500,1000,1500,2000,2500,3000,3500,4000]}},
          "y": {"field": "y", "type": "quantitative", "scale": {"domain": [0, 1.03], "nice": false, "zero": false}, "axis": {"orient": "right", "labels": false, "title": null, "values": [0,0.2,0.4,0.6,0.8,1]}},
          "stroke": {"field": "s", "type": "nominal", "scale": {"domain": ["Q=1 [ml/min]","Q=2 [ml/min]","Q=4 [ml/min]","Q=5 [ml/min]"], "range": ["#1010e0","#e01010","#20e020","#e020e0"]}, "legend": null}
        }
      },
      {
        "data": {"name": "B_models"},
        "mark": {"type": "line", "strokeWidth": 2.2},
        "encoding": {
          "x": {"field": "x", "type": "quantitative", "axis": null},
          "y": {"field": "y", "type": "quantitative", "axis": null},
          "detail": {"field": "c"},
          "color": {"field": "s", "type": "nominal",
            "scale": {"domain": ["USP II model", "millifluidic model"], "range": ["black", "black"]},
            "legend": {
              "title": null, "orient": "none", "legendX": 345, "legendY": 385,
              "labelAlign": "right", "labelOffset": -52, "labelLimit": 400, "labelFontSize": 20, "labelFont": "Liberation Serif", "labelColor": "black",
              "symbolOffset": 202, "symbolType": "M-5,0H5", "symbolSize": 125, "symbolStrokeWidth": 2, "rowPadding": 1, "padding": 0,
              "encode": {
                "entries": {"update": {"width": {"value": 1}, "height": {"value": 20}}},
                "symbols": {"update": {
                  "stroke": {"value": "black"},
                  "fill": {"value": "transparent"},
                  "strokeDash": [{"test": "datum.value === 'USP II model'", "value": [15,7,4,7]}, {"value": [1,0]}],
                  "opacity": {"value": 1}
                }}
              }
            }
          }
        }
      },
      {
        "data": {"name": "B_usp"},
        "mark": {"type": "line", "strokeWidth": 3, "strokeDash": [14,6,3,6]},
        "encoding": {
          "x": {"field": "x", "type": "quantitative", "axis": null},
          "y": {"field": "y", "type": "quantitative", "axis": null},
          "color": {"field": "s", "type": "nominal"}
        }
      },
      {
        "data": {"name": "B_pts"},
        "transform": [{"filter": "isValid(datum.lo)"}],
        "mark": {"type": "rule", "color": "#e06060", "strokeWidth": 1},
        "encoding": {"x": {"field": "x", "type": "quantitative", "axis": null}, "y": {"field": "lo", "type": "quantitative", "axis": null}, "y2": {"field": "hi"}}
      },
      {
        "data": {"name": "B_pts"},
        "transform": [{"filter": "isValid(datum.lo)"}],
        "mark": {"type": "tick", "orient": "horizontal", "color": "#e06060", "size": 8, "thickness": 1},
        "encoding": {"x": {"field": "x", "type": "quantitative", "axis": null}, "y": {"field": "lo", "type": "quantitative", "axis": null}}
      },
      {
        "data": {"name": "B_pts"},
        "transform": [{"filter": "isValid(datum.lo)"}],
        "mark": {"type": "tick", "orient": "horizontal", "color": "#e06060", "size": 8, "thickness": 1},
        "encoding": {"x": {"field": "x", "type": "quantitative", "axis": null}, "y": {"field": "hi", "type": "quantitative", "axis": null}}
      },
      {
        "data": {"name": "B_pts"},
        "mark": {"type": "circle", "size": 90, "opacity": 1, "color": "#ff0000"},
        "encoding": {
          "x": {"field": "x", "type": "quantitative", "scale": {"domain": [0, 4000], "nice": false, "zero": false}, "axis": {"orient": "bottom", "values": [0,500,1000,1500,2000,2500,3000,3500,4000], "format": "d", "title": "τ"}},
          "y": {"field": "y", "type": "quantitative", "scale": {"domain": [0, 1.03], "nice": false, "zero": false}, "axis": {"orient": "left", "values": [0,0.2,0.4,0.6,0.8,1], "format": "~g", "title": "Mτ/M∞"}}
        }
      },
      {
        "data": {"values": [{"x": 901, "y": 0.6, "x2": 409, "y2": 0.786}]},
        "mark": {"type": "rule", "color": "black", "strokeWidth": 1.5},
        "encoding": {"x": {"field": "x", "type": "quantitative", "axis": null}, "y": {"field": "y", "type": "quantitative", "axis": null}, "x2": {"field": "x2"}, "y2": {"field": "y2"}}
      },
      {
        "data": {"values": [{"x": 409, "y": 0.786}]},
        "mark": {"type": "point", "shape": "M-1,-0.4L0,0L-1,0.4", "size": 400, "filled": false, "color": "black", "strokeWidth": 1.5, "angle": 226, "opacity": 1},
        "encoding": {"x": {"field": "x", "type": "quantitative", "axis": null}, "y": {"field": "y", "type": "quantitative", "axis": null}}
      },
      {
        "data": {"values": [{"x": 3834, "y": 0.933, "t": "B"}]},
        "mark": {"type": "text", "fontSize": 28, "baseline": "middle", "align": "center", "font": "Liberation Serif", "color": "black"},
        "encoding": {"x": {"field": "x", "type": "quantitative", "axis": null}, "y": {"field": "y", "type": "quantitative", "axis": null}, "text": {"field": "t"}}
      }
    ],
    "resolve": {"axis": {"x": "independent", "y": "independent"}}
  },
  {
    "width": 610, "height": 427,
    "layer": [
      {
        "data": {"name": "C_lines"},
        "mark": {"type": "line", "strokeWidth": 2},
        "encoding": {
          "x": {"field": "x", "type": "quantitative", "scale": {"domain": [0, 800], "nice": false, "zero": false}, "axis": {"orient": "top", "labels": false, "title": null, "values": [0,100,200,300,400,500,600,700,800]}},
          "y": {"field": "y", "type": "quantitative", "scale": {"domain": [0, 1.03], "nice": false, "zero": false}, "axis": {"orient": "right", "labels": false, "title": null, "values": [0,0.2,0.4,0.6,0.8,1]}},
          "color": {"field": "s", "type": "nominal",
            "scale": {"domain": ["Q=1 [ml/min]","Q=2 [ml/min]","Q=4 [ml/min]","Q=5 [ml/min]","USP II","millifluidic model","USP II model"], "range": ["#1010e0","#e01010","#20e020","#e020e0","#ff0000","black","black"]},
            "legend": {
              "title": null, "orient": "none", "legendX": 345, "legendY": 277,
              "labelAlign": "right", "labelOffset": -52, "labelLimit": 400, "labelFontSize": 20, "labelFont": "Liberation Serif", "labelColor": "black",
              "symbolOffset": 202, "symbolType": "M-5,0H5", "symbolSize": 125, "symbolStrokeWidth": 2, "rowPadding": 1, "padding": 0,
              "encode": {
                "entries": {"update": {"width": {"value": 1}, "height": {"value": 20}}},
                "symbols": {"update": {
                  "shape": [{"test": "datum.value === 'USP II'", "value": "M-5,0H5M-5,-0.6V0.6M5,-0.6V0.6M0.9,0A0.9,0.9,0,1,1,-0.9,0A0.9,0.9,0,1,1,0.9,0Z"}, {"value": "M-5,0H5"}],
                  "stroke": [{"test": "datum.value === 'Q=1 [ml/min]'", "value": "#1010e0"}, {"test": "datum.value === 'Q=2 [ml/min]'", "value": "#e01010"}, {"test": "datum.value === 'Q=4 [ml/min]'", "value": "#20e020"}, {"test": "datum.value === 'Q=5 [ml/min]'", "value": "#e020e0"}, {"test": "datum.value === 'USP II'", "value": "#e06060"}, {"value": "black"}],
                  "fill": [{"test": "datum.value === 'USP II'", "value": "#ff0000"}, {"value": "transparent"}],
                  "strokeDash": [{"test": "datum.value === 'USP II model'", "value": [15,7,4,7]}, {"value": [1,0]}],
                  "opacity": {"value": 1}
                }}
              }
            }
          }
        }
      },
      {
        "data": {"name": "C_models"},
        "mark": {"type": "line", "strokeWidth": 2},
        "encoding": {
          "x": {"field": "x", "type": "quantitative", "axis": null},
          "y": {"field": "y", "type": "quantitative", "axis": null},
          "detail": {"field": "c"},
          "color": {"field": "s", "type": "nominal"}
        }
      },
      {
        "data": {"name": "C_usp"},
        "mark": {"type": "line", "strokeWidth": 2, "strokeDash": [14,6,3,6]},
        "encoding": {
          "x": {"field": "x", "type": "quantitative", "axis": null},
          "y": {"field": "y", "type": "quantitative", "axis": null},
          "color": {"field": "s", "type": "nominal"}
        }
      },
      {
        "data": {"name": "C_pts"},
        "transform": [{"filter": "isValid(datum.lo)"}],
        "mark": {"type": "rule", "color": "#e06060", "strokeWidth": 1},
        "encoding": {"x": {"field": "x", "type": "quantitative", "axis": null}, "y": {"field": "lo", "type": "quantitative", "axis": null}, "y2": {"field": "hi"}}
      },
      {
        "data": {"name": "C_pts"},
        "transform": [{"filter": "isValid(datum.lo)"}],
        "mark": {"type": "tick", "orient": "horizontal", "color": "#e06060", "size": 8, "thickness": 1},
        "encoding": {"x": {"field": "x", "type": "quantitative", "axis": null}, "y": {"field": "lo", "type": "quantitative", "axis": null}}
      },
      {
        "data": {"name": "C_pts"},
        "transform": [{"filter": "isValid(datum.lo)"}],
        "mark": {"type": "tick", "orient": "horizontal", "color": "#e06060", "size": 8, "thickness": 1},
        "encoding": {"x": {"field": "x", "type": "quantitative", "axis": null}, "y": {"field": "hi", "type": "quantitative", "axis": null}}
      },
      {
        "data": {"name": "C_pts"},
        "mark": {"type": "circle", "size": 90, "opacity": 1},
        "encoding": {
          "x": {"field": "x", "type": "quantitative", "scale": {"domain": [0, 800], "nice": false, "zero": false}, "axis": {"orient": "bottom", "values": [0,100,200,300,400,500,600,700,800], "format": "d", "title": "τ"}},
          "y": {"field": "y", "type": "quantitative", "scale": {"domain": [0, 1.03], "nice": false, "zero": false}, "axis": {"orient": "left", "values": [0,0.2,0.4,0.6,0.8,1], "format": "~g", "title": "Mτ/M∞"}},
          "color": {"field": "s", "type": "nominal"}
        }
      },
      {
        "data": {"values": [{"x": 314, "y": 0.522, "x2": 150.5, "y2": 0.755}]},
        "mark": {"type": "rule", "color": "black", "strokeWidth": 1.5},
        "encoding": {"x": {"field": "x", "type": "quantitative", "axis": null}, "y": {"field": "y", "type": "quantitative", "axis": null}, "x2": {"field": "x2"}, "y2": {"field": "y2"}}
      },
      {
        "data": {"values": [{"x": 150.5, "y": 0.755}]},
        "mark": {"type": "point", "shape": "M-1,-0.4L0,0L-1,0.4", "size": 400, "filled": false, "color": "black", "strokeWidth": 1.5, "angle": 217.7, "opacity": 1},
        "encoding": {"x": {"field": "x", "type": "quantitative", "axis": null}, "y": {"field": "y", "type": "quantitative", "axis": null}}
      },
      {
        "data": {"values": [{"x": 764, "y": 0.931, "t": "C"}]},
        "mark": {"type": "text", "fontSize": 28, "baseline": "middle", "align": "center", "font": "Liberation Serif", "color": "black"},
        "encoding": {"x": {"field": "x", "type": "quantitative", "axis": null}, "y": {"field": "y", "type": "quantitative", "axis": null}, "text": {"field": "t"}}
      }
    ],
    "resolve": {"axis": {"x": "independent", "y": "independent"}}
  }
],
"resolve": {"scale": {"color": "independent", "stroke": "independent", "x": "independent", "y": "independent"}, "legend": {"color": "independent"}}
}
